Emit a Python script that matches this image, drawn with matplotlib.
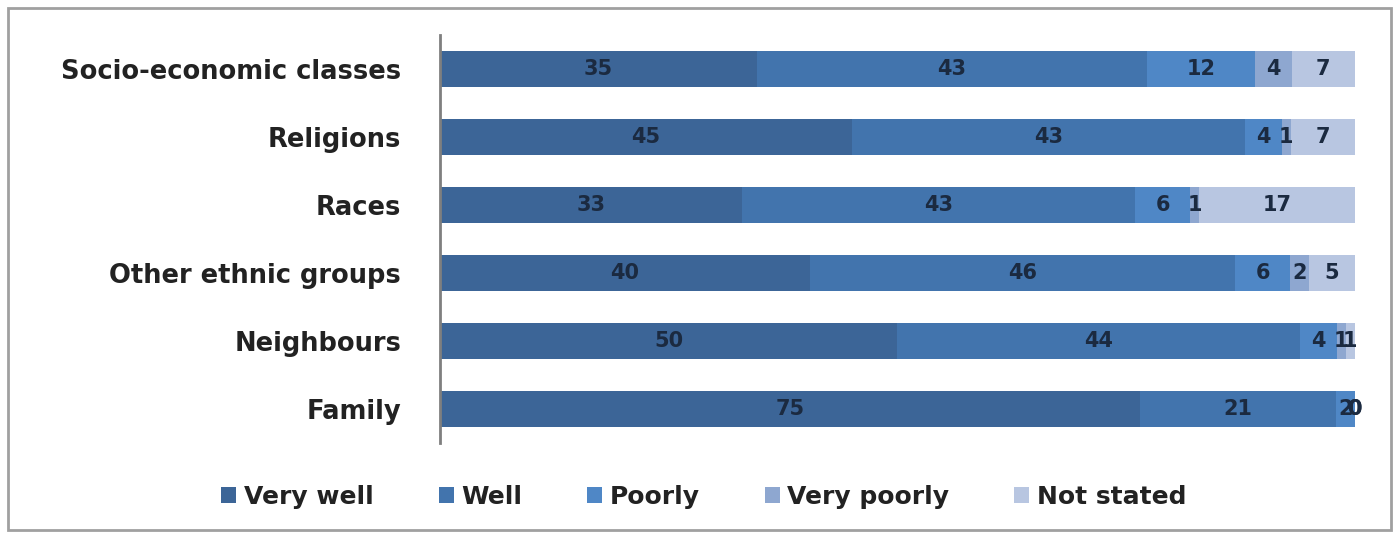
import numpy as np
import matplotlib
matplotlib.use("Agg")
import matplotlib.pyplot as plt
from matplotlib.patches import Rectangle

# data, top row first
categories = ["Socio-economic classes", "Religions", "Races",
              "Other ethnic groups", "Neighbours", "Family"]
series = ["Very well", "Well", "Poorly", "Very poorly", "Not stated"]
very_well = [35, 45, 33, 40, 50, 75]
well = [43, 43, 43, 46, 44, 21]
poorly = [12, 4, 6, 6, 4, 2]
very_poorly = [4, 1, 1, 2, 1, 0]
not_stated = [7, 7, 17, 5, 1, 0]

colors = ["#3c6597", "#4274ad", "#4f87c6", "#8ea7d0", "#b8c6e1"]

values = np.array([very_well, well, poorly, very_poorly, not_stated], dtype=float)
# 100% stacked: each row scaled to its own total
shares = values / values.sum(axis=0) * 100

fig = plt.figure(figsize=(13.99, 5.38), dpi=100)
ax = fig.add_axes([0.3145, 0.1766, 0.654, 0.7584])

y = np.arange(len(categories))[::-1]
left = np.zeros(len(categories))
for name, raw, w, c in zip(series, values, shares, colors):
    ax.barh(y, w, left=left, height=0.52, color=c, label=name)
    for xi, yi, v in zip(left + w / 2, y, raw):
        ax.text(xi, yi, "%d" % v, ha="center", va="center",
                fontsize=15, fontweight="bold", color="#1b2a40")
    left += w

ax.set_xlim(0, 100)
ax.set_ylim(-0.5, 5.5)
ax.set_yticks(y)
ax.set_yticklabels(categories, fontsize=18.5, fontweight="bold", color="#222222")
ax.tick_params(axis="y", length=0, pad=28)
ax.set_xticks([])
for s in ["top", "right", "bottom"]:
    ax.spines[s].set_visible(False)
ax.spines["left"].set_color("#7f7f7f")
ax.spines["left"].set_linewidth(2)

leg = fig.legend(loc="center", bbox_to_anchor=(0.503, 0.076), ncol=5,
                 frameon=False, prop={"size": 18, "weight": "bold"},
                 handlelength=0.6, handleheight=0.6, handletextpad=0.3,
                 columnspacing=2.6, labelcolor="#222222")

# outer border round the whole chart
fig.patches.append(Rectangle((0.006, 0.015), 0.988, 0.97, transform=fig.transFigure,
                             fill=False, edgecolor="#a0a0a0", linewidth=2))

fig.savefig("out.png", dpi=100)
